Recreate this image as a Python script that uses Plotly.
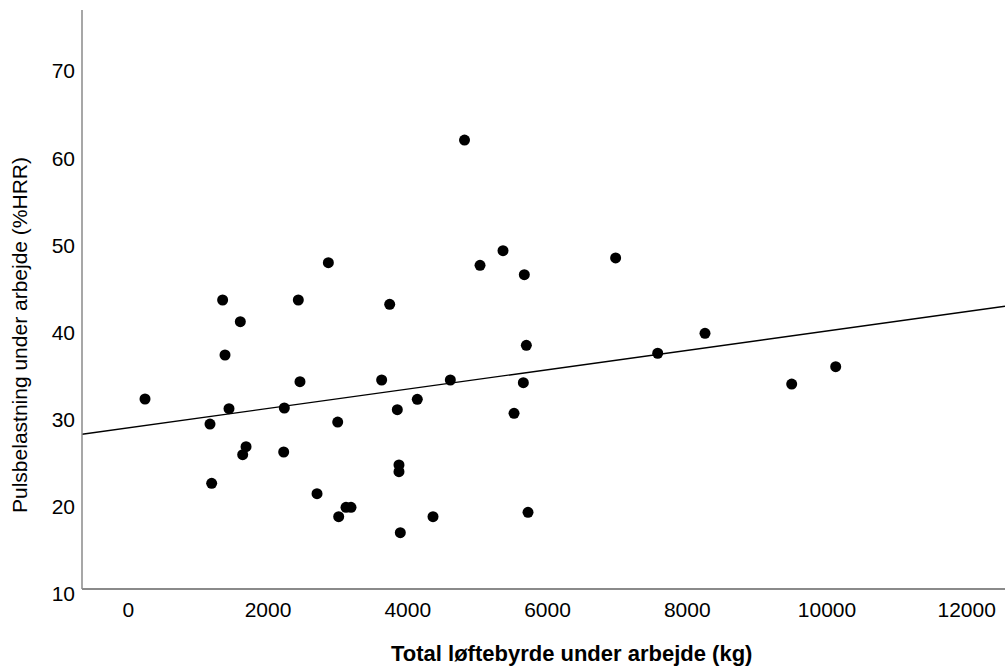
import numpy as np
import plotly.graph_objects as go

# Total løftebyrde under arbejde (kg)
lift_kg = [4812, 2863, 1350, 2433, 1603, 3741, 5034, 5363, 5668, 1384, 5697,
           239, 1441, 1169, 2457, 2233, 3626, 4609, 4136, 3850, 2997, 5654,
           5521, 1685, 1637, 2224, 3874, 3874, 1193, 2701, 3116, 3187, 3011,
           4361, 3893, 5721, 6975, 8254, 7577, 9495, 10125]
# Pulsbelastning under arbejde (%HRR)
hrr_pct = [62.08, 48.01, 43.73, 43.73, 41.24, 43.24, 47.71, 49.39, 46.63, 37.42, 38.53,
           32.37, 31.26, 29.50, 34.36, 31.34, 34.55, 34.55, 32.34, 31.14, 29.73, 34.24,
           30.73, 26.90, 25.98, 26.29, 24.80, 24.03, 22.70, 21.51, 19.95, 19.95, 18.87,
           18.87, 17.03, 19.37, 48.55, 39.91, 37.62, 34.09, 36.08]

x_ticks = [0, 2000, 4000, 6000, 8000, 10000, 12000]
y_ticks = [10, 20, 30, 40, 50, 60, 70]
x_range = [-663, 12548]
y_range = [10, 77]

x_title = "Total løftebyrde under arbejde (kg)"
y_title = "Pulsbelastning under arbejde (%HRR)"

# linear fit line
slope, intercept = np.polyfit(np.array(lift_kg, float), np.array(hrr_pct, float), 1)
fit_x = np.array(x_range, float)
fit_y = intercept + slope * fit_x

FONT = "Liberation Sans, Arial, sans-serif"
AXIS_GREY = "#8a8a8a"

fig = go.Figure()
fig.add_trace(go.Scatter(
    x=fit_x, y=fit_y, mode="lines",
    line=dict(color="black", width=1.4),
    hoverinfo="skip", showlegend=False, cliponaxis=True,
))
fig.add_trace(go.Scatter(
    x=lift_kg, y=hrr_pct, mode="markers",
    marker=dict(color="black", size=11, line=dict(width=0)),
    showlegend=False,
))

W, H = 1005, 668
ml, mr, mt, mb = 82, 0, 10, 74
plot_h = H - mt - mb
x_axis_px = 589  # pixel row of the drawn x axis line

fig.update_layout(
    width=W, height=H,
    margin=dict(l=ml, r=mr, t=mt, b=mb, pad=0),
    paper_bgcolor="white", plot_bgcolor="white",
    font=dict(family=FONT, color="black", size=21),
    xaxis=dict(
        range=x_range, tickvals=x_ticks, ticktext=[str(v) for v in x_ticks],
        showgrid=False, zeroline=False,
        showline=True, linecolor=AXIS_GREY, linewidth=1.5,
        ticks="", ticklabelstandoff=2,
        tickfont=dict(family=FONT, size=21, color="black"),
        anchor="free", position=(H - mb - x_axis_px) / plot_h,
    ),
    yaxis=dict(
        range=y_range, tickvals=y_ticks, ticktext=[str(v) for v in y_ticks],
        showgrid=False, zeroline=False,
        showline=False,
        ticks="", ticklabelstandoff=6,
        tickfont=dict(family=FONT, size=21, color="black"),
    ),
    shapes=[dict(
        type="line", xref="paper", yref="paper",
        x0=0, x1=0, y0=(H - mb - x_axis_px) / plot_h, y1=1,
        line=dict(color=AXIS_GREY, width=1.5),
    )],
    annotations=[
        dict(text=x_title, xref="paper", yref="paper",
             x=(571 - ml) / (W - ml - mr), y=-(653 - (H - mb)) / plot_h,
             xanchor="center", yanchor="middle", showarrow=False,
             font=dict(family=FONT, size=22, color="black", weight="bold")),
        dict(text=y_title, xref="paper", yref="paper",
             x=-(ml - 20) / (W - ml - mr), y=((H - mb) - 335) / plot_h,
             xanchor="center", yanchor="middle", showarrow=False, textangle=-90,
             font=dict(family=FONT, size=21, color="black")),
    ],
)

fig.write_html(
    "out.html",
    config={"displayModeBar": False},
    post_script="document.body.style.margin='0';document.body.style.overflow='hidden';",
)
